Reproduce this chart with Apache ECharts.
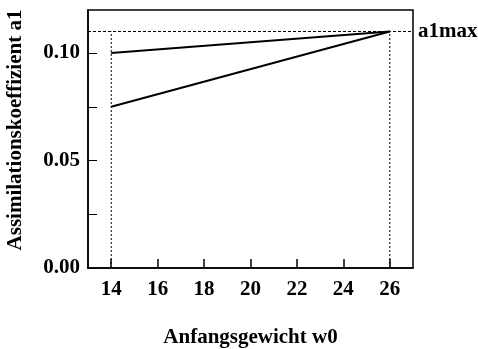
<!DOCTYPE html>
<html>
<head>
<meta charset="utf-8">
<script src="https://cdn.jsdelivr.net/npm/echarts@6/dist/echarts.min.js"></script>
<style>
	html, body { margin: 0; padding: 0; background: #fff; }
	#chart { width: 478px; height: 349px; }
</style>
</head>
<body>
<div id="chart"></div>
<script>
// data
var wStart = [14, 26];
var upperLine = [0.100, 0.110];
var lowerLine = [0.075, 0.110];
var a1max = 0.11;
var xTicks = [14, 16, 18, 20, 22, 24, 26];
var yTicks = [0, 0.025, 0.05, 0.075, 0.1];
var yLabels = [0, 0.05, 0.1];

var font = 'Liberation Serif';

function pairs(xs, ys) {
	var out = [];
	for (var i = 0; i < xs.length; i++) {
		out.push([xs[i], ys[i]]);
	}
	return out;
}

var charts = echarts.init(document.getElementById('chart'));
var option = {
	animation : false,
	grid : {
		left : 88,
		right : 65,
		top : 10,
		bottom : 81,
		outerBoundsMode : 'none', //keep the box where it is
		show : true,
		borderColor : '#000',
		borderWidth : 1.5
	},
	xAxis : {
		type : 'value',
		min : 13,
		max : 27,
		splitLine : { show : false },
		axisLine : { lineStyle : { color : '#000', width : 1.5 } },
		axisTick : {
			inside : true,
			length : 9,
			customValues : xTicks,
			lineStyle : { color : '#000', width : 1.5 }
		},
		axisLabel : {
			customValues : xTicks,
			margin : 11,
			color : '#000',
			fontFamily : font,
			fontWeight : 'bold',
			fontSize : 21
		},
		name : 'Anfangsgewicht w0',
		nameLocation : 'middle',
		nameGap : 59,
		nameTextStyle : {
			color : '#000',
			fontFamily : font,
			fontWeight : 'bold',
			fontSize : 21
		}
	},
	yAxis : {
		type : 'value',
		min : 0,
		max : 0.12,
		splitLine : { show : false },
		axisLine : { lineStyle : { color : '#000', width : 1.5 } },
		axisTick : {
			inside : true,
			length : 9,
			customValues : yTicks,
			lineStyle : { color : '#000', width : 1 }
		},
		axisLabel : {
			customValues : yLabels,
			margin : 8,
			color : '#000',
			fontFamily : font,
			fontWeight : 'bold',
			fontSize : 21,
			formatter : function(v) { return v.toFixed(2); }
		},
		name : 'Assimilationskoeffizient a1',
		nameLocation : 'middle',
		nameRotate : 90,
		nameGap : 62,
		nameTextStyle : {
			color : '#000',
			fontFamily : font,
			fontWeight : 'bold',
			fontSize : 21,
			padding : [0, 0, 0, 18]
		}
	},
	series : [
		{
			type : 'line',
			data : pairs(wStart, upperLine),
			symbol : 'none',
			lineStyle : { color : '#000', width : 2 }
		},
		{
			type : 'line',
			data : pairs(wStart, lowerLine),
			symbol : 'none',
			lineStyle : { color : '#000', width : 2 }
		},
		{
			// dotted guides down from a1max
			type : 'line',
			data : [[wStart[0], 0], [wStart[0], a1max]],
			symbol : 'none',
			lineStyle : { color : '#000', width : 1, type : [2, 2] },
			z : 1
		},
		{
			type : 'line',
			data : [[wStart[1], 0], [wStart[1], a1max]],
			symbol : 'none',
			lineStyle : { color : '#000', width : 1, type : [2, 2] },
			z : 1,
			markLine : {
				silent : true,
				symbol : 'none',
				lineStyle : { color : '#000', width : 1, type : [3, 2] },
				label : {
					position : 'end',
					distance : 5,
					formatter : 'a1max',
					color : '#000',
					fontFamily : font,
					fontWeight : 'bold',
					fontSize : 21
				},
				data : [{ yAxis : a1max }]
			}
		}
	]
};
charts.setOption(option);
</script>
</body>
</html>
